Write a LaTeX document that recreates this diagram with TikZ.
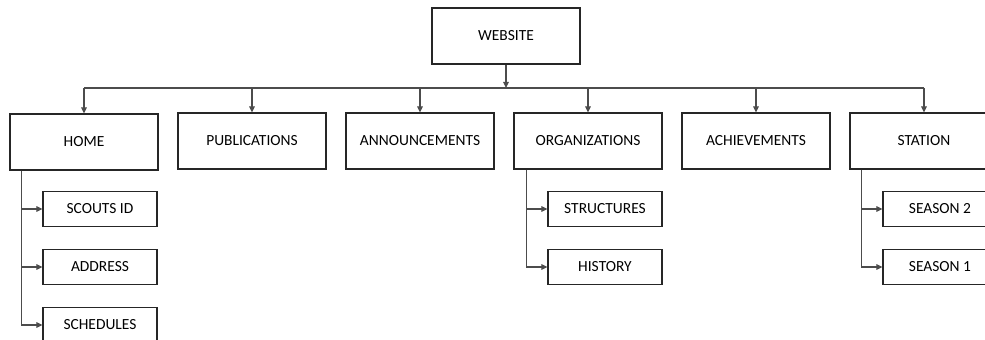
\documentclass[tikz,border=0pt]{standalone}
\usepackage{fontspec}
\setmainfont{Carlito}
\usetikzlibrary{arrows.meta,calc}
\tikzstyle{topbox}=[rectangle, draw=black!85, line width=0.6pt, minimum width=2.96cm, minimum height=1.12cm, inner sep=0pt, anchor=center, font=\fontsize{8.8}{10.5}\selectfont]
\tikzstyle{subbox}=[rectangle, draw=black!85, line width=0.6pt, minimum width=2.28cm, minimum height=0.70cm, inner sep=0pt, anchor=center, font=\fontsize{8.8}{10.5}\selectfont]
\tikzstyle{link}=[draw=black!70, line width=0.6pt]
\tikzstyle{arr}=[link, -{Triangle[length=3.5pt, width=3.2pt]}]

\begin{document}
\begin{tikzpicture}[x=0.02cm, y=-0.02cm]
	\useasboundingbox (0,0) rectangle (985,340);
	\clip (0,0) rectangle (985,340);

	% root and first level
	\node[topbox](website) at (506,36){WEBSITE};
	\coordinate (bus) at (506,88);

	\node[topbox](home) at (84,142){HOME};
	\node[topbox](publications) at (252,141){PUBLICATIONS};
	\node[topbox](announcements) at (420,141){ANNOUNCEMENTS};
	\node[topbox](organizations) at (588,141){ORGANIZATIONS};
	\node[topbox](achievements) at (756,141){ACHIEVEMENTS};
	\node[topbox](station) at (924,141){STATION};

	% second level
	\node[subbox](scouts) at (100,209){SCOUTS ID};
	\node[subbox](address) at (100,267){ADDRESS};
	\node[subbox](schedules) at (100,325){SCHEDULES};

	\node[subbox](structures) at (605,209){STRUCTURES};
	\node[subbox](history) at (605,267){HISTORY};

	\node[subbox](season2) at (940,209){SEASON 2};
	\node[subbox](season1) at (940,267){SEASON 1};

	% connectors
	\draw[arr] (website) -- (bus);
	\draw[link] (home.north |- bus) -- (station.north |- bus);
	\draw[arr] (home.north |- bus) -- (home);
	\draw[arr] (publications.north |- bus) -- (publications);
	\draw[arr] (announcements.north |- bus) -- (announcements);
	\draw[arr] (organizations.north |- bus) -- (organizations);
	\draw[arr] (achievements.north |- bus) -- (achievements);
	\draw[arr] (station.north |- bus) -- (station);

	\draw[arr] ([xshift=0.24cm]home.south west) |- (scouts);
	\draw[arr] ([xshift=0.24cm]home.south west) |- (address);
	\draw[arr] ([xshift=0.24cm]home.south west) |- (schedules);
	\draw[arr] ([xshift=0.26cm]organizations.south west) |- (structures);
	\draw[arr] ([xshift=0.26cm]organizations.south west) |- (history);
	\draw[arr] ([xshift=0.24cm]station.south west) |- (season2);
	\draw[arr] ([xshift=0.24cm]station.south west) |- (season1);
\end{tikzpicture}
\end{document}
